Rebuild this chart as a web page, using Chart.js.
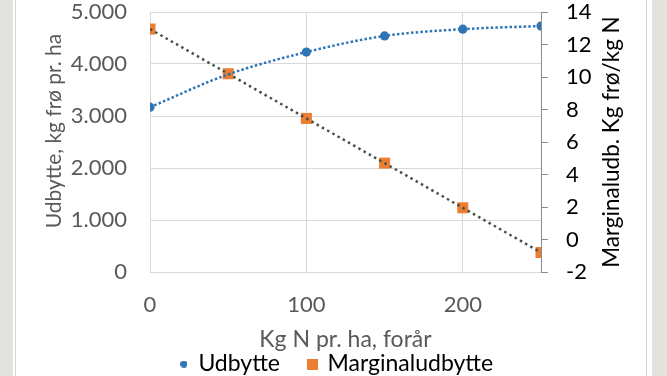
<!DOCTYPE html>
<html>
<head>
<meta charset="utf-8">
<script src="https://cdn.jsdelivr.net/npm/chart.js@4"></script>
<style>
  html, body { margin: 0; padding: 0; background: #fff; }
  #wrap { position: relative; width: 667px; height: 376px; overflow: hidden; background: #fff; }
  .band { position: absolute; top: 0; height: 376px; background: #e4e2dc; }
  .edge { position: absolute; top: 0; height: 376px; width: 1px; background: #d8d6d1; }
  canvas { position: absolute; left: 0; top: 0; }
</style>
</head>
<body>
<div id="wrap">
  <div class="band" style="left:0;width:13px"></div>
  <div class="edge" style="left:15px"></div>
  <div class="edge" style="left:646px"></div>
  <div class="band" style="left:652px;width:15px"></div>
  <canvas id="chart" width="667" height="400"></canvas>
</div>
<script>
// data
const kgN = [0, 50, 100, 150, 200, 250]
const udbytte = [3170, 3800, 4230, 4540, 4670, 4730]
const marginal = [12.95, 10.2, 7.45, 4.7, 1.95, -0.8]

const xRange = [0, 250, 100]       // min, max, step
const leftRange = [0, 5000, 1000]
const rightRange = [-2, 14, 2]

const xTitle = "Kg N pr. ha, forår"
const leftTitle = "Udbytte, kg frø pr. ha"
const rightTitle = "Marginaludb. Kg frø/kg N"
const seriesNames = ["Udbytte", "Marginaludbytte"]

const BLUE = "#2e75b6"
const ORANGE = "#ed7d31"
const TREND = "#44524a"
const GREY = "#595959"
const FONT = "Lato"

const pts = (ys) => kgN.map((x, i) => ({ x: x, y: ys[i] }))

// dots for the thousand separator, Danish style
const fmt = (v) => String(v).replace(/\B(?=(\d{3})+(?!\d))/g, ".")

function marker(shape, color, size) {
  const c = document.createElement("canvas")
  c.width = size
  c.height = size
  const g = c.getContext("2d")
  g.fillStyle = color
  if (shape === "circle") {
    g.beginPath()
    g.arc(size / 2, size / 2, size / 2, 0, Math.PI * 2)
    g.fill()
  } else {
    g.fillRect(0, 0, size, size)
  }
  return c
}
const legendMarks = [marker("circle", BLUE, 7), marker("rect", ORANGE, 11)]

// both y titles read bottom-to-top, placed where the reference has them
const sideTitles = {
  id: "sideTitles",
  afterDraw(chart) {
    const ctx = chart.ctx
    const draw = (text, x, y, size, color) => {
      ctx.save()
      ctx.translate(x, y)
      ctx.rotate(-Math.PI / 2)
      ctx.font = size + "px " + FONT
      ctx.fillStyle = color
      ctx.textAlign = "center"
      ctx.textBaseline = "middle"
      ctx.fillText(text, 0, 0)
      ctx.restore()
    }
    draw(leftTitle, 54, 131, 21, GREY)
    draw(rightTitle, 612, 142, 22.5, "#000")
  },
}

// keep tick label overflow from pushing the plot area around
const noPad = (s) => {
  s.paddingTop = 0
  s.paddingBottom = 0
  s.paddingLeft = 0
  s.paddingRight = 0
}

const ctx = document.getElementById("chart").getContext("2d")
new Chart(ctx, {
  type: "line",
  data: {
    datasets: [
      // trend lines (drawn on top)
      {
        label: "trend1",
        data: pts(udbytte),
        yAxisID: "y",
        borderColor: BLUE,
        borderWidth: 2.5,
        borderDash: [2.5, 2.2],
        cubicInterpolationMode: "monotone",
        pointRadius: 0,
        fill: false,
      },
      {
        label: "trend2",
        data: pts(marginal),
        yAxisID: "y1",
        borderColor: TREND,
        borderWidth: 2.5,
        borderDash: [2.5, 3.5],
        tension: 0,
        pointRadius: 0,
        fill: false,
      },
      {
        label: seriesNames[1],
        data: pts(marginal),
        yAxisID: "y1",
        showLine: false,
        pointStyle: "rect",
        pointRadius: 7.8,
        pointBackgroundColor: ORANGE,
        pointBorderWidth: 0,
        backgroundColor: ORANGE,
      },
      {
        label: seriesNames[0],
        data: pts(udbytte),
        yAxisID: "y",
        showLine: false,
        pointStyle: "circle",
        pointRadius: 4.6,
        pointBackgroundColor: BLUE,
        pointBorderWidth: 0,
        backgroundColor: BLUE,
      },
    ],
  },
  options: {
    responsive: false,
    animation: false,
    layout: { padding: { top: 12, left: 7, right: 0, bottom: 14.5 } },
    plugins: {
      tooltip: { enabled: false },
      legend: {
        position: "bottom",
        labels: {
          usePointStyle: true,
          pointStyleWidth: 6,
          padding: 30,
          color: "#000",
          font: { family: FONT, size: 23 },
          filter: (item) => seriesNames.includes(item.text),
          sort: (a, b) => seriesNames.indexOf(a.text) - seriesNames.indexOf(b.text),
          generateLabels(chart) {
            const items = Chart.defaults.plugins.legend.labels.generateLabels(chart)
            items.forEach((it) => {
              const k = seriesNames.indexOf(it.text)
              if (k >= 0) it.pointStyle = legendMarks[k]
            })
            return items
          },
        },
      },
    },
    scales: {
      x: {
        type: "linear",
        min: xRange[0],
        max: xRange[1],
        afterFit: (s) => { s.height = 50.5; noPad(s) },
        ticks: {
          stepSize: xRange[2],
          includeBounds: false,
          padding: 20,
          color: GREY,
          font: { family: FONT, size: 22 },
        },
        grid: { color: "#d9d9d9", drawTicks: false },
        border: { color: "#d9d9d9" },
        title: {
          display: true,
          text: xTitle,
          color: GREY,
          font: { family: FONT, size: 23, lineHeight: 1 },
          padding: { top: 0, bottom: -29 },
        },
      },
      y: {
        position: "left",
        min: leftRange[0],
        max: leftRange[1],
        afterFit: (s) => { s.width = 143; noPad(s) },
        ticks: {
          stepSize: leftRange[2],
          padding: 23,
          color: GREY,
          font: { family: FONT, size: 22 },
          callback: (v) => fmt(v),
        },
        grid: { color: "#d9d9d9", drawTicks: false },
        border: { display: false },
      },
      y1: {
        position: "right",
        min: rightRange[0],
        max: rightRange[1],
        afterFit: (s) => { s.width = 126; noPad(s) },
        ticks: {
          stepSize: rightRange[2],
          padding: 18,
          color: "#000",
          font: { family: FONT, size: 22 },
        },
        grid: { drawOnChartArea: false, drawTicks: true, tickLength: 7, color: "#8c8c8c" },
        border: { color: "#8c8c8c" },
      },
    },
  },
  plugins: [sideTitles],
})
</script>
</body>
</html>
